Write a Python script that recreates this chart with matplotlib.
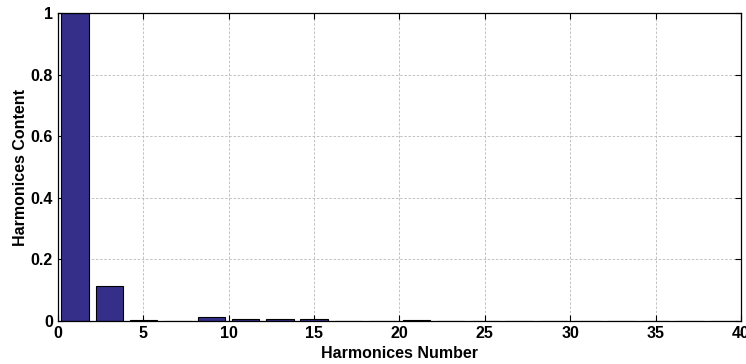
import matplotlib
matplotlib.use("Agg")
import matplotlib.pyplot as plt

harmonic_orders = [1, 3, 5, 7, 9, 11, 13, 15, 17, 19, 21, 23, 25, 27, 29, 31, 33, 35, 37, 39]
harmonic_content = [1.0, 0.114, 0.002, 0.0015, 0.012, 0.0075, 0.0055, 0.005, 0.0, 0.0,
                    0.003, 0.0015, 0.0015, 0.0015, 0.0, 0.0, 0.0, 0.0, 0.0, 0.0]
x_ticks = [0, 5, 10, 15, 20, 25, 30, 35, 40]
y_ticks = [0, 0.2, 0.4, 0.6, 0.8, 1]
y_tick_labels = ["0", "0.2", "0.4", "0.6", "0.8", "1"]

plt.rcParams['font.family'] = ['Liberation Sans', 'DejaVu Sans']
plt.rcParams['font.weight'] = 'bold'

fig = plt.figure(figsize=(7.46, 3.64), dpi=100)
ax = fig.add_axes([0.0777, 0.1181, 0.9156, 0.8462])

ax.bar(harmonic_orders, harmonic_content, width=1.6, color='#352f8a',
       edgecolor='black', linewidth=0.8, zorder=3)

ax.set_xlim(0, 40)
ax.set_ylim(0, 1)
ax.set_xticks(x_ticks)
ax.set_yticks(y_ticks)
ax.set_yticklabels(y_tick_labels)
ax.grid(True, linestyle=(0, (3, 2)), color='#b8b8b8', linewidth=0.6, zorder=0)
ax.tick_params(direction='in', top=True, right=True, labelsize=11.5, length=4, width=0.8)
for lbl in ax.get_xticklabels() + ax.get_yticklabels():
    lbl.set_fontweight('bold')
for s in ax.spines.values():
    s.set_linewidth(0.9)
    s.set_zorder(4)

ax.set_xlabel('Harmonices Number', fontsize=11.5, fontweight='bold', labelpad=4)
ax.set_ylabel('Harmonices Content', fontsize=11.5, fontweight='bold', labelpad=2)

fig.savefig('out.png', dpi=100)
